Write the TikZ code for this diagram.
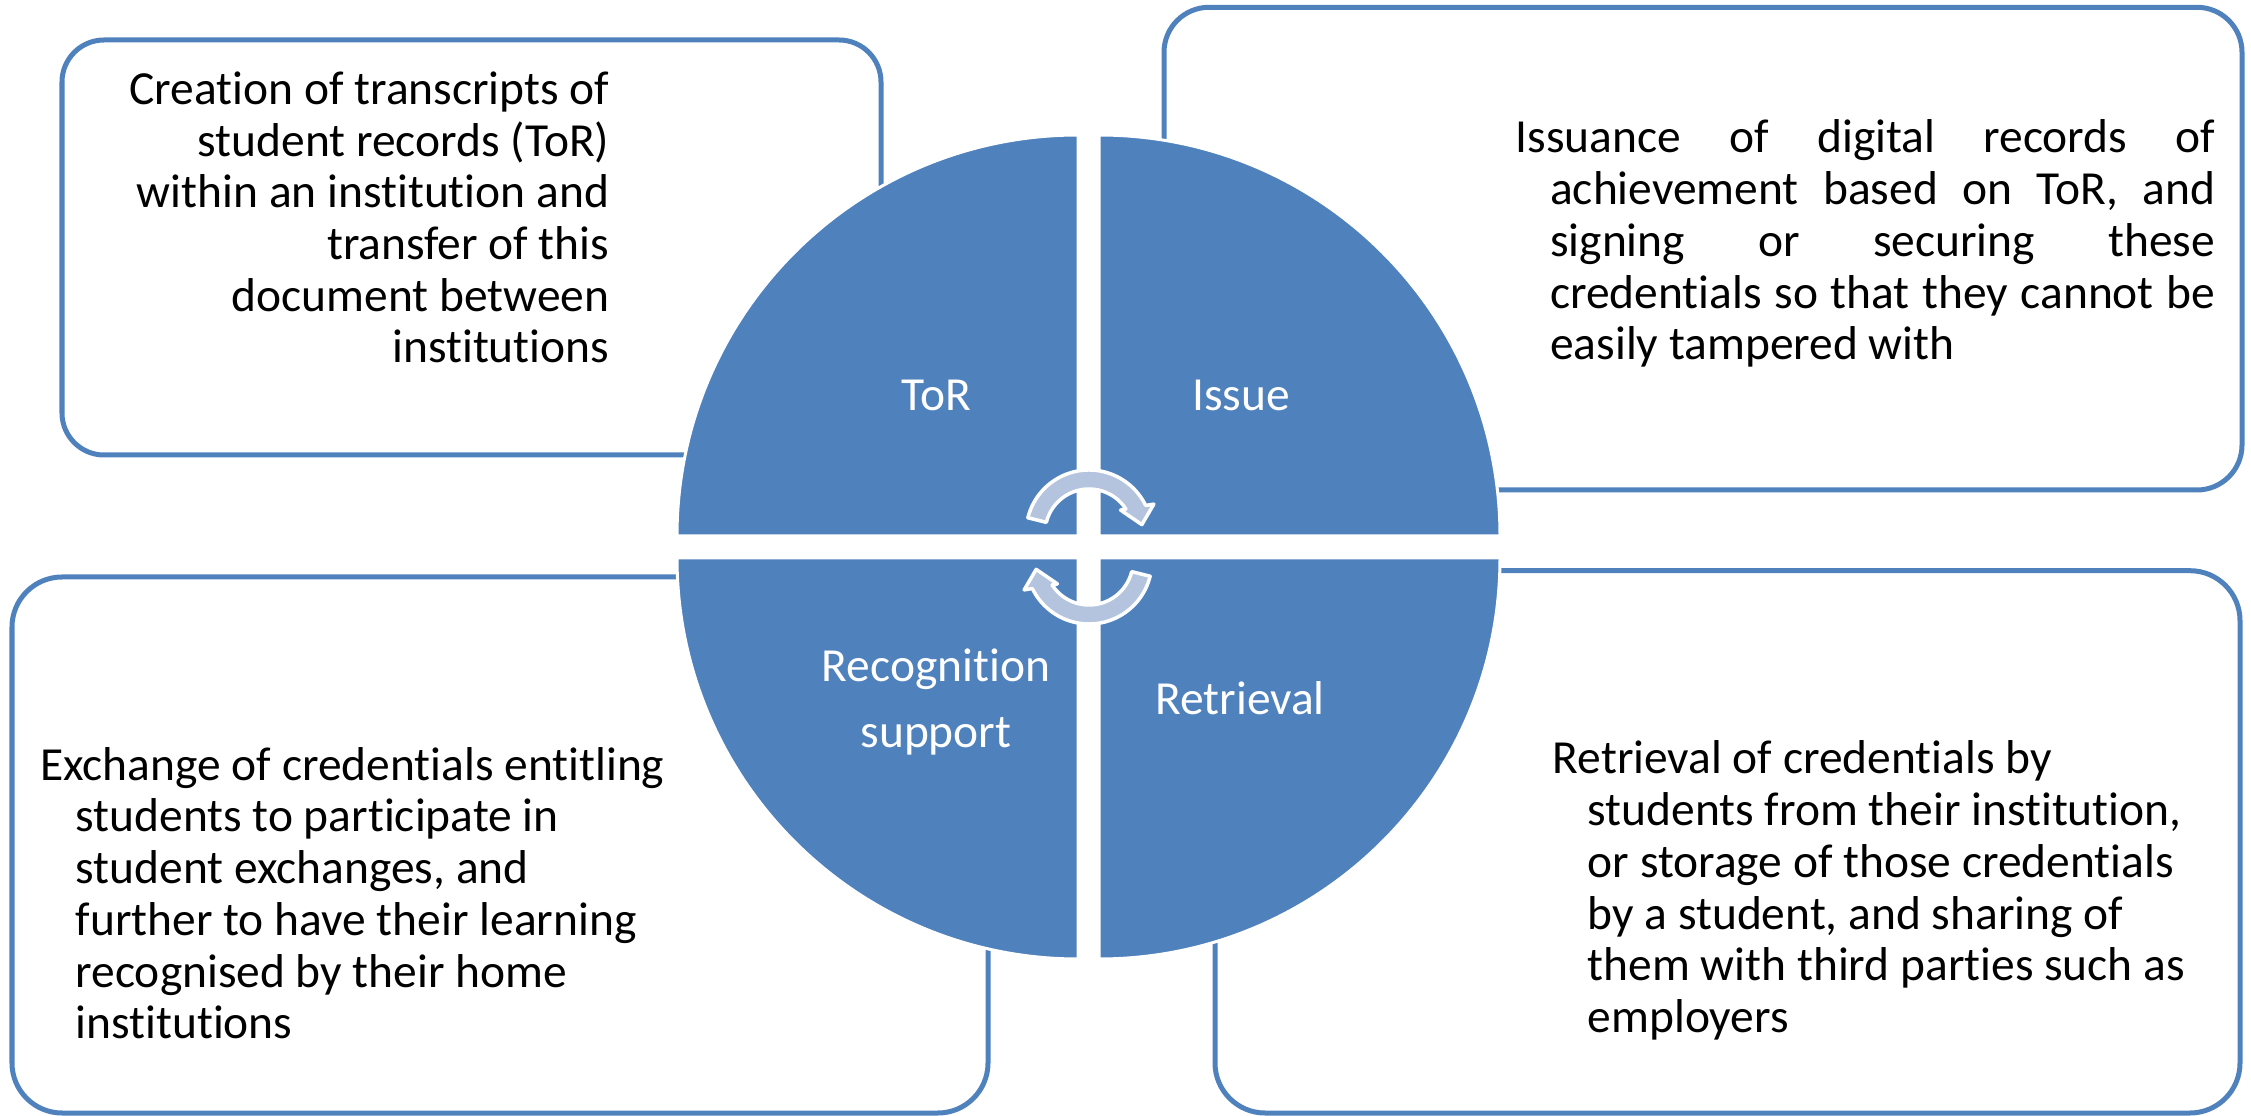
\documentclass[tikz,border=0pt]{standalone}
\usepackage{fontspec}
\setmainfont{Carlito}[Ligatures={NoCommon,NoRare,NoContextual}]
\definecolor{accent}{RGB}{79,129,189}
\definecolor{arrowfill}{RGB}{180,196,222}
\begin{document}
\begin{tikzpicture}[x=0.01cm,y=-0.01cm,
  descbox/.style={draw=accent, line width=0.05cm},
  quad/.style={fill=accent, draw=white, line width=0.03cm},
  txt/.style={inner sep=0pt, font=\fontsize{13.5}{14.7}\selectfont},
  qtxt/.style={txt, text=white},
  cyc/.style={fill=arrowfill, draw=white, line width=0.035cm, line join=round}]
\useasboundingbox (0,0) rectangle (2251,1116);
% description boxes
\draw[descbox, rounded corners=0.42cm] (62,40) rectangle (881,455);
\draw[descbox, rounded corners=0.45cm] (1164,7.3) rectangle (2242,490);
\draw[descbox, rounded corners=0.5cm] (12,577) rectangle (988,1113);
\draw[descbox, rounded corners=0.5cm] (1215,570.7) rectangle (2240,1113);
% quadrants
\draw[quad] (1078,536) -- ++(-401,0) arc[start angle=180,end angle=270,radius=401] -- cycle;
\draw[quad] (1099,536) -- ++(0,-401) arc[start angle=270,end angle=360,radius=401] -- cycle;
\draw[quad] (1078,558) -- ++(-401,0) arc[start angle=180,end angle=90,radius=401] -- cycle;
\draw[quad] (1099,558) -- ++(401,0) arc[start angle=0,end angle=90,radius=401] -- cycle;
% cycle arrows
\foreach \rot in {0,180} {
  \begin{scope}[shift={(1089,547)}, rotate=\rot, shift={(0,-14)}]
    \draw[cyc] (-166:63) arc[start angle=-166, end angle=-25.9, radius=63]
      -- (-24:71) -- (-9:53.5) -- (-36:39) -- (-33:44)
      arc[start angle=-33, end angle=-166, radius=44] -- cycle;
  \end{scope}
}
% quadrant labels
\node[qtxt, anchor=base] (qtor) at (936,410.5) {ToR};
\node[qtxt, anchor=base] (qissue) at (1241,410.5) {Issue};
\node[qtxt, anchor=base] (qrec1) at (936,681.7) {Recognition};
\node[qtxt, anchor=base] (qrec2) at (936,748) {support};
\node[qtxt, anchor=base] (qret) at (1240,715) {Retrieval};
% top-left text
\foreach [count=\i] \t in {Creation of transcripts of, student records (ToR), within an institution and, transfer of this, document between, institutions}
  \node[txt, anchor=base east] (tl\i) at (610,{104.5+51.7*(\i-1)}) {\t};
% top-right text
\node[txt, anchor=base west] (tr1) at (1515,153) {\makebox[6.99cm][s]{Issuance of digital records of}};
\node[txt, anchor=base west] (tr2) at (1549.5,204.7) {\makebox[6.645cm][s]{achievement based on ToR, and}};
\node[txt, anchor=base west] (tr3) at (1549.5,256.4) {\makebox[6.645cm][s]{signing or securing these}};
\node[txt, anchor=base west] (tr4) at (1549.5,308.1) {\makebox[6.645cm][s]{credentials so that they cannot be}};
\node[txt, anchor=base west] (tr5) at (1549.5,359.8) {easily tampered with};
% bottom-left text
\node[txt, anchor=base west] (bl1) at (39.5,780.2) {Exchange of credentials entitling};
\foreach [count=\i] \t in {students to participate in, {student exchanges, and}, further to have their learning, recognised by their home, institutions}
  \node[txt, anchor=base west] (bl\i x) at (75,{780.2+51.7*\i}) {\t};
% bottom-right text
\node[txt, anchor=base west] (br1) at (1552,774) {Retrieval of credentials by};
\foreach [count=\i] \t in {{students from their institution,}, or storage of those credentials, {by a student, and sharing of}, them with third parties such as, employers}
  \node[txt, anchor=base west] (br\i x) at (1587,{774+51.7*\i}) {\t};
\end{tikzpicture}
\end{document}
